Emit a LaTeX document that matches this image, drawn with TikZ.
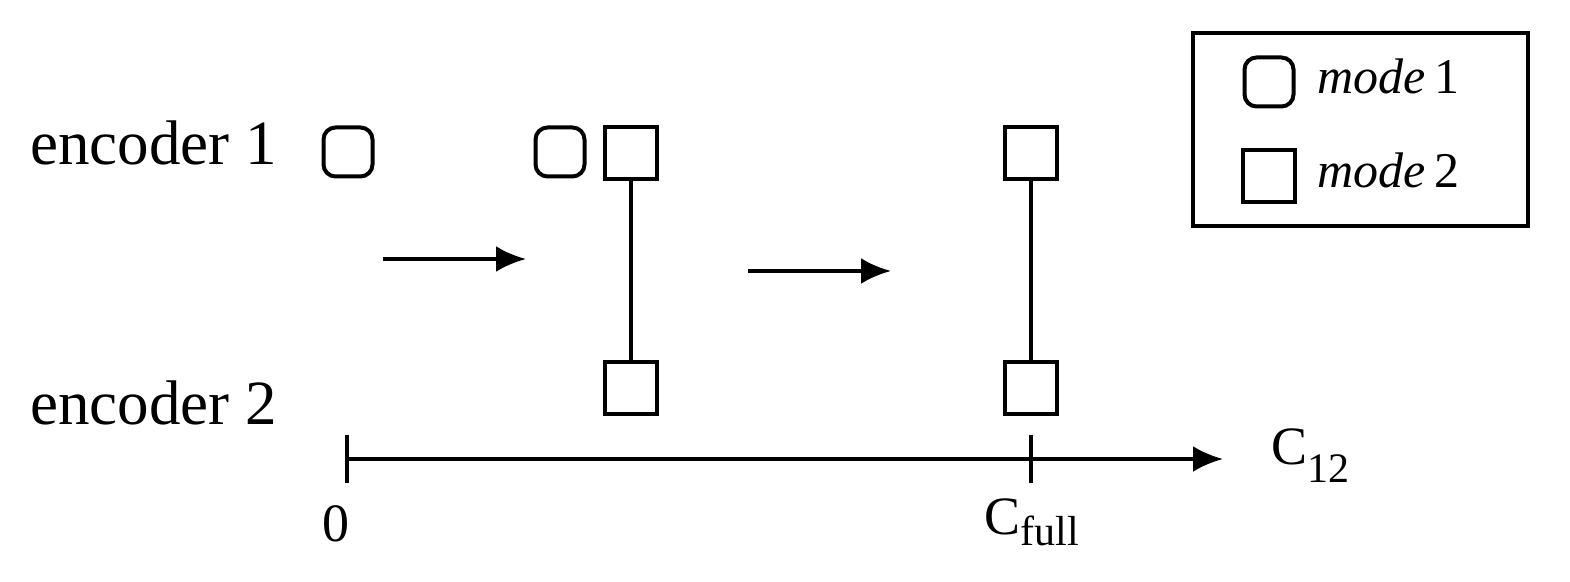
\documentclass[tikz,border=0pt]{standalone}
\usepackage{fontspec}
\setmainfont{Liberation Serif}
\usepackage{tikz}
\usetikzlibrary{positioning,calc,arrows.meta}
\newcommand{\lowsub}[2]{\raisebox{-#1}{\fontsize{21}{22}\selectfont #2}}
\tikzset{
    modeone/.style={draw=black, line width=2pt, rounded corners=6pt, minimum size=24.5pt, inner sep=0pt},
    modetwo/.style={draw=black, line width=2pt, minimum size=26pt, inner sep=0pt},
    label/.style={inner sep=0pt, font=\fontsize{31.5}{36}\selectfont},
    axislabel/.style={inner sep=0pt, font=\fontsize{27}{30}\selectfont},
    legendlabel/.style={inner sep=0pt, font=\fontsize{25}{28}\selectfont}
}

\begin{document}
\begin{tikzpicture}[
        x=0.5pt, y=-0.5pt,
        % --- STYLE ---
        % duong noi giua hai encoder
        joinline/.style={draw=black, line width=2pt},
        % mui ten chuyen trang thai
        steparrow/.style={draw=black, line width=2pt, -{Latex[length=15pt,width=13pt]}},
        % truc C12
        axisline/.style={draw=black, line width=2pt}
    ]
        \useasboundingbox (0,0) rectangle (1570,582);

        % --- NHAN ENCODER ---
        \node[label, anchor=base west] (enc1) at (30,165) {encoder 1};
        \node[label, anchor=base west] (enc2) at (30,425) {encoder 2};

        % --- TRANG THAI 1 ---
        \node[modeone] (a1) at (348,152) {};

        % --- TRANG THAI 2 ---
        \node[modeone] (b1) at (560,152) {};
        \node[modetwo] (b2) at (631,153) {};
        \node[modetwo] (b3) at (631,388) {};
        \draw[joinline] (b2) -- (b3);

        % --- TRANG THAI 3 ---
        \node[modetwo] (c2) at (1031,153) {};
        \node[modetwo] (c3) at (1031,388) {};
        \draw[joinline] (c2) -- (c3);

        % --- MUI TEN ---
        \coordinate (p1s) at (383,259);
        \coordinate (p1e) at (526,259);
        \draw[steparrow] (p1s) -- (p1e);
        \coordinate (p2s) at (748,271);
        \coordinate (p2e) at (891,271);
        \draw[steparrow] (p2s) -- (p2e);

        % --- TRUC ---
        \coordinate (o) at (347,459);
        \coordinate (f) at (1031,459);
        \coordinate (e) at (1223,459);
        \draw[axisline, -{Latex[length=15pt,width=13pt]}] (o) -- (e);
        \draw[axisline] ($(o)+(0,-24)$) -- ($(o)+(0,24)$);
        \draw[axisline] ($(f)+(0,-24)$) -- ($(f)+(0,24)$);
        \node[axislabel, anchor=base] (zero) at (336,542) {0};
        \node[axislabel, anchor=base west] (cfull) at (984,535) {C\lowsub{5.5pt}{full}};
        \node[axislabel, anchor=base west] (c12) at (1271,465) {C\lowsub{9pt}{12}};

        % --- CHU THICH ---
        \node[draw=black, line width=2pt, minimum width=167.5pt, minimum height=96.5pt, inner sep=0pt] (legend) at (1360.5,129.5) {};
        \node[modeone] (l1) at (1269,82) {};
        \node[modetwo] (l2) at (1269,176) {};
        \node[legendlabel, anchor=base west] (t1) at (1317,94) {\textit{mode}\,1};
        \node[legendlabel, anchor=base west] (t2) at (1317,188) {\textit{mode}\,2};

    \end{tikzpicture}
\end{document}
